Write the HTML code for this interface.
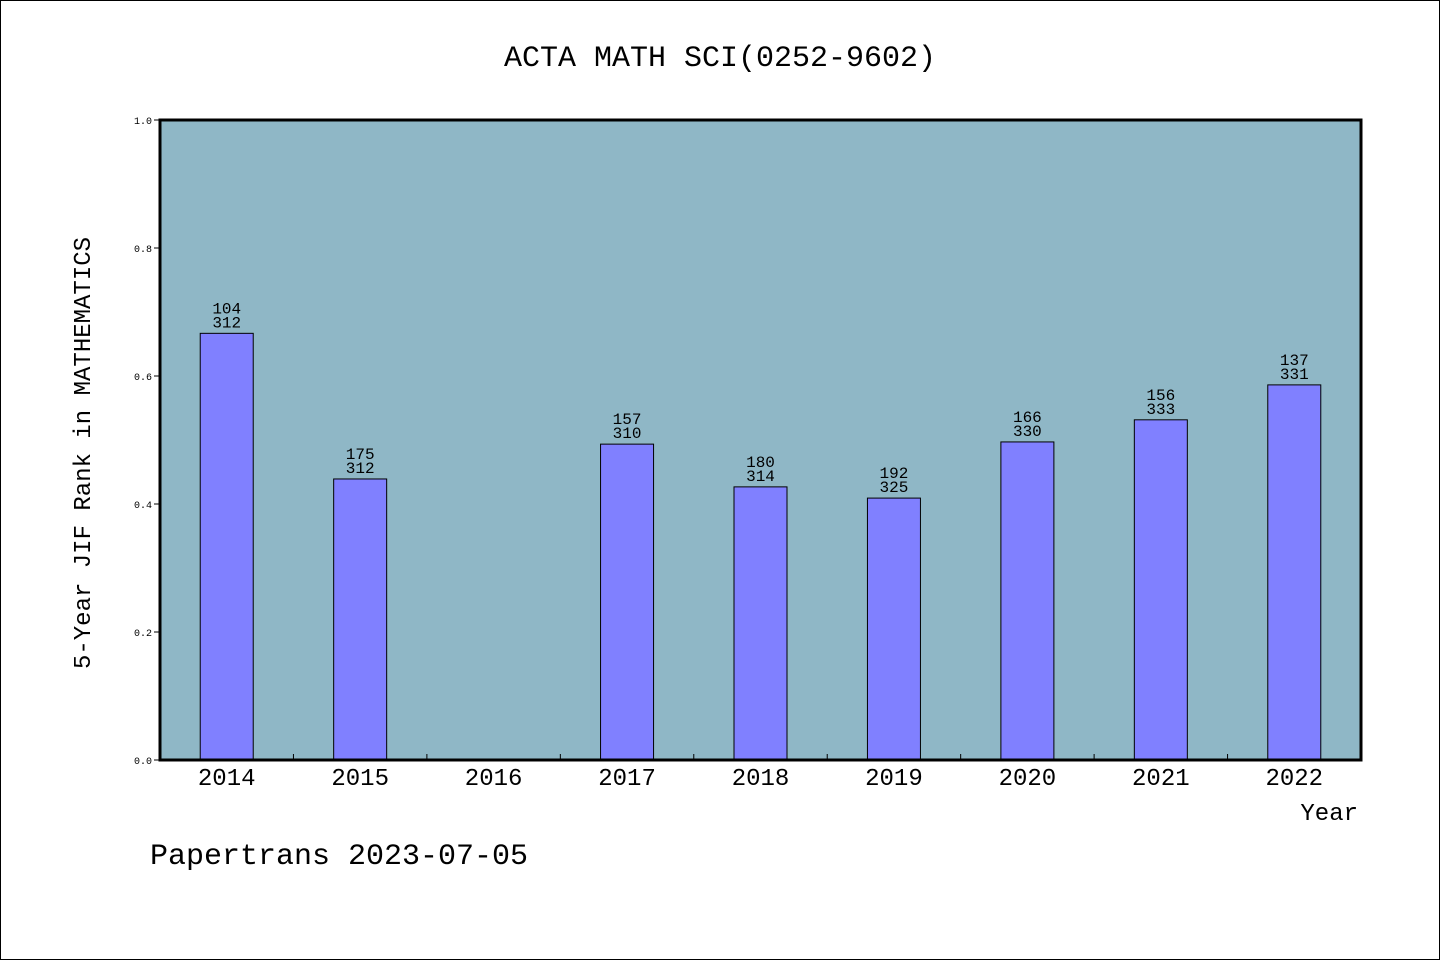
<!DOCTYPE html>
<html><head><meta charset="utf-8"><style>
body{margin:0;background:#fff}
svg{display:block;font-family:"Liberation Mono","WenQuanYi Zen Hei",monospace}
</style></head><body>
<svg id="chart" width="1440" height="960" viewBox="0 0 1440 960">
<rect x="0.5" y="0.5" width="1439" height="959" fill="#fff" stroke="#000"/>
<text x="720" y="66" font-size="30" text-anchor="middle">ACTA MATH SCI(0252-9602)</text>
<rect x="160" y="120" width="1201" height="640" fill="#8fb7c6"/>
<g id="yaxis"></g>
<g id="xaxis"></g>
<g id="bars"></g>
<rect x="160" y="120" width="1201" height="640" fill="none" stroke="#000" stroke-width="3"/>
<text transform="translate(90,453) rotate(-90)" font-size="24" text-anchor="middle">5-Year JIF Rank in MATHEMATICS</text>
<text x="1358" y="820" font-size="24" text-anchor="end">Year</text>
<text x="150" y="864" font-size="30">Papertrans 2023-07-05</text>
</svg>
<script>
const categories=["2014","2015","2016","2017","2018","2019","2020","2021","2022"];
const ranks=[104,175,null,157,180,192,166,156,137];
const totals=[312,312,null,310,314,325,330,333,331];
const yTicks=[0,0.2,0.4,0.6,0.8,1.0];
const NS="http://www.w3.org/2000/svg";
const X0=160,X1=1361,Y0=760,Y1=120;
const step=(X1-X0)/categories.length;
const xc=i=>X0+step*(i+0.5);
const y=v=>Y0-(Y0-Y1)*v;
function mk(tag,attrs,parent,txt){const e=document.createElementNS(NS,tag);for(const k in attrs)e.setAttribute(k,attrs[k]);if(txt!=null)e.textContent=txt;parent.appendChild(e);return e;}
const ya=document.getElementById('yaxis'),xa=document.getElementById('xaxis'),bg=document.getElementById('bars');
yTicks.forEach(t=>{
  const l=mk('line',{x1:X0-6,x2:X0,y1:y(t),y2:y(t),stroke:'#000'},ya);
  
  
  const tx=mk('text',{x:X0-8,y:y(t)+4,'font-size':10,'text-anchor':'end'},ya,t.toFixed(1));
  
  
});
categories.forEach((c,i)=>{
  if(i>0){const l=mk('line',{x1:X0+step*i,x2:X0+step*i,y1:Y0-6,y2:Y0,stroke:'#000'},xa);
  
  }
  const tx=mk('text',{x:xc(i),y:785,'font-size':24,'text-anchor':'middle'},xa,c);
  
  
  if(ranks[i]==null)return;
  const v=1-ranks[i]/totals[i];
  const r=mk('rect',{x:xc(i)-26.5,y:y(v),width:53,height:Y0-y(v),fill:'#8080ff',stroke:'#000','stroke-width':1},bg);
  
  
  const a=mk('text',{x:xc(i),y:y(v)-20,'font-size':16,'text-anchor':'middle'},bg,String(ranks[i]));
  
  
  const b=mk('text',{x:xc(i),y:y(v)-6,'font-size':16,'text-anchor':'middle'},bg,String(totals[i]));
  
  
});
</script>
</body></html>
